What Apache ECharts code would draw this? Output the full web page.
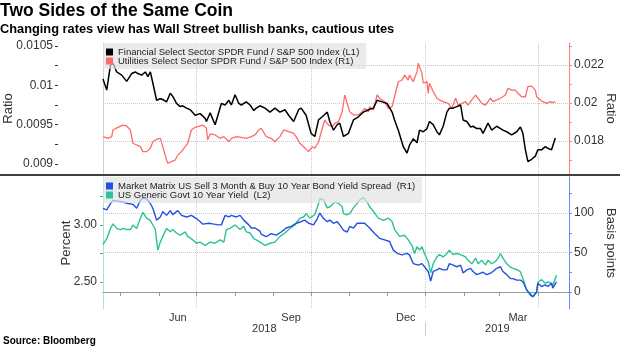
<!DOCTYPE html>
<html><head><meta charset="utf-8">
<script src="https://cdn.jsdelivr.net/npm/echarts/dist/echarts.min.js"></script>
<style>html,body{margin:0;padding:0;background:#fff}#c{width:620px;height:348px}</style>
</head><body><div id="c"></div><script>
// ---------- DATA ----------
const finName = 'Financial Select Sector SPDR Fund / S&P 500 Index (L1)';
const utilName = 'Utilities Select Sector SPDR Fund / S&P 500 Index (R1)';
const spreadName = 'Market Matrix US Sell 3 Month & Buy 10 Year Bond Yield Spread  (R1)';
const yieldName = 'US Generic Govt 10 Year Yield  (L2)';

const finDates = ['2018-04-17','2018-04-20','2018-04-23','2018-04-25','2018-04-28','2018-05-02','2018-05-06','2018-05-10','2018-05-13','2018-05-15','2018-05-18','2018-05-21','2018-05-23','2018-05-25','2018-05-27','2018-05-30','2018-06-02','2018-06-04','2018-06-07','2018-06-10','2018-06-12','2018-06-15','2018-06-18','2018-06-20','2018-06-23','2018-06-26','2018-06-30','2018-07-04','2018-07-08','2018-07-09','2018-07-12','2018-07-16','2018-07-19','2018-07-21','2018-07-24','2018-07-27','2018-07-29','2018-08-01','2018-08-04','2018-08-06','2018-08-10','2018-08-13','2018-08-16','2018-08-18','2018-08-21','2018-08-25','2018-08-29','2018-09-02','2018-09-06','2018-09-10','2018-09-13','2018-09-17','2018-09-21','2018-09-23','2018-09-27','2018-10-01','2018-10-04','2018-10-07','2018-10-10','2018-10-14','2018-10-16','2018-10-19','2018-10-22','2018-10-24','2018-10-27','2018-10-31','2018-11-04','2018-11-08','2018-11-12','2018-11-16','2018-11-20','2018-11-23','2018-11-27','2018-12-01','2018-12-05','2018-12-07','2018-12-10','2018-12-14','2018-12-17','2018-12-19','2018-12-22','2018-12-25','2018-12-27','2018-12-30','2019-01-02','2019-01-04','2019-01-07','2019-01-10','2019-01-12','2019-01-15','2019-01-18','2019-01-20','2019-01-23','2019-01-26','2019-01-29','2019-01-31','2019-02-03','2019-02-06','2019-02-08','2019-02-11','2019-02-14','2019-02-16','2019-02-20','2019-02-23','2019-02-27','2019-03-02','2019-03-04','2019-03-07','2019-03-11','2019-03-15','2019-03-18','2019-03-20','2019-03-22','2019-03-24','2019-03-27','2019-03-30','2019-04-01','2019-04-04','2019-04-07','2019-04-09','2019-04-12','2019-04-15'];
const finValues = [0.01008,0.00994,0.01026,0.01028,0.01017,0.01013,0.01005,0.01015,0.01017,0.01015,0.01013,0.01017,0.01011,0.01017,0.01003,0.00981,0.00983,0.00982,0.00979,0.00990,0.00986,0.00977,0.00973,0.00974,0.00971,0.00969,0.00962,0.00964,0.00958,0.00954,0.00965,0.00950,0.00966,0.00977,0.00975,0.00981,0.00975,0.00988,0.00977,0.00975,0.00979,0.00975,0.00968,0.00971,0.00974,0.00971,0.00966,0.00971,0.00966,0.00969,0.00962,0.00954,0.00969,0.00971,0.00962,0.00939,0.00935,0.00956,0.00960,0.00966,0.00954,0.00943,0.00950,0.00952,0.00935,0.00939,0.00956,0.00960,0.00966,0.00969,0.00971,0.00981,0.00979,0.00977,0.00966,0.00956,0.00943,0.00922,0.00914,0.00924,0.00932,0.00927,0.00943,0.00941,0.00945,0.00954,0.00950,0.00941,0.00937,0.00948,0.00966,0.00971,0.00971,0.00973,0.00975,0.00956,0.00954,0.00947,0.00948,0.00945,0.00945,0.00939,0.00952,0.00943,0.00948,0.00945,0.00943,0.00941,0.00937,0.00941,0.00947,0.00939,0.00918,0.00903,0.00906,0.00910,0.00918,0.00918,0.00922,0.00920,0.00918,0.00933];

const utilDates = ['2018-04-17','2018-04-21','2018-04-24','2018-04-25','2018-04-29','2018-05-03','2018-05-06','2018-05-09','2018-05-11','2018-05-14','2018-05-17','2018-05-19','2018-05-22','2018-05-25','2018-05-27','2018-05-30','2018-06-02','2018-06-04','2018-06-07','2018-06-08','2018-06-11','2018-06-14','2018-06-16','2018-06-19','2018-06-22','2018-06-24','2018-06-27','2018-06-30','2018-07-04','2018-07-06','2018-07-09','2018-07-10','2018-07-12','2018-07-16','2018-07-20','2018-07-23','2018-07-27','2018-07-29','2018-08-02','2018-08-06','2018-08-10','2018-08-14','2018-08-17','2018-08-20','2018-08-22','2018-08-26','2018-08-30','2018-09-02','2018-09-06','2018-09-09','2018-09-13','2018-09-17','2018-09-19','2018-09-22','2018-09-25','2018-09-29','2018-10-02','2018-10-04','2018-10-07','2018-10-10','2018-10-12','2018-10-15','2018-10-18','2018-10-20','2018-10-23','2018-10-26','2018-10-28','2018-10-30','2018-11-01','2018-11-04','2018-11-08','2018-11-11','2018-11-13','2018-11-16','2018-11-17','2018-11-20','2018-11-23','2018-11-25','2018-11-29','2018-12-02','2018-12-05','2018-12-07','2018-12-10','2018-12-13','2018-12-15','2018-12-18','2018-12-19','2018-12-22','2018-12-25','2018-12-26','2018-12-29','2018-12-30','2019-01-02','2019-01-03','2019-01-04','2019-01-07','2019-01-10','2019-01-12','2019-01-15','2019-01-16','2019-01-19','2019-01-22','2019-01-25','2019-01-27','2019-01-30','2019-02-02','2019-02-04','2019-02-07','2019-02-10','2019-02-12','2019-02-15','2019-02-18','2019-02-20','2019-02-22','2019-02-24','2019-02-27','2019-03-02','2019-03-06','2019-03-08','2019-03-11','2019-03-14','2019-03-16','2019-03-19','2019-03-22','2019-03-24','2019-03-27','2019-03-30','2019-03-31','2019-04-03','2019-04-05','2019-04-08','2019-04-11','2019-04-13','2019-04-15'];
const utilValues = [0.01823,0.01814,0.01823,0.01858,0.01872,0.01884,0.01879,0.01858,0.01788,0.01779,0.01770,0.01744,0.01744,0.01762,0.01796,0.01809,0.01814,0.01770,0.01700,0.01683,0.01691,0.01700,0.01726,0.01744,0.01770,0.01788,0.01858,0.01872,0.01879,0.01884,0.01867,0.01805,0.01837,0.01832,0.01814,0.01823,0.01796,0.01814,0.01823,0.01819,0.01814,0.01823,0.01832,0.01858,0.01867,0.01823,0.01814,0.01796,0.01823,0.01858,0.01849,0.01840,0.01823,0.01788,0.01770,0.01744,0.01770,0.01762,0.01796,0.01867,0.01910,0.01884,0.01875,0.01893,0.01902,0.01954,0.02042,0.01998,0.01954,0.01937,0.01937,0.01954,0.01972,0.01954,0.01981,0.01963,0.02042,0.02025,0.02007,0.01972,0.01981,0.02033,0.02112,0.02121,0.02147,0.02121,0.02147,0.02112,0.02165,0.02209,0.02156,0.02104,0.02112,0.02051,0.02104,0.02060,0.02025,0.02016,0.02007,0.02016,0.01998,0.01972,0.02025,0.01989,0.01998,0.02007,0.01989,0.02016,0.02042,0.02025,0.01998,0.01989,0.02007,0.02025,0.02007,0.02016,0.02025,0.02042,0.02077,0.02068,0.02068,0.02051,0.02033,0.02033,0.02086,0.02089,0.02068,0.02033,0.02016,0.02007,0.01998,0.02007,0.02002,0.02007];

const spreadDates = ['2018-04-17','2018-04-20','2018-04-23','2018-04-25','2018-04-29','2018-05-03','2018-05-07','2018-05-11','2018-05-14','2018-05-17','2018-05-19','2018-05-22','2018-05-25','2018-05-27','2018-05-30','2018-06-02','2018-06-04','2018-06-07','2018-06-10','2018-06-12','2018-06-16','2018-06-19','2018-06-23','2018-06-27','2018-07-01','2018-07-04','2018-07-06','2018-07-11','2018-07-15','2018-07-19','2018-07-21','2018-07-24','2018-07-27','2018-07-29','2018-08-02','2018-08-05','2018-08-08','2018-08-12','2018-08-14','2018-08-17','2018-08-21','2018-08-22','2018-08-26','2018-08-30','2018-09-03','2018-09-07','2018-09-11','2018-09-15','2018-09-19','2018-09-23','2018-09-26','2018-09-29','2018-10-03','2018-10-06','2018-10-08','2018-10-11','2018-10-14','2018-10-16','2018-10-19','2018-10-22','2018-10-24','2018-10-27','2018-10-30','2018-11-01','2018-11-04','2018-11-07','2018-11-11','2018-11-13','2018-11-17','2018-11-21','2018-11-25','2018-11-29','2018-12-03','2018-12-06','2018-12-09','2018-12-13','2018-12-17','2018-12-19','2018-12-22','2018-12-26','2018-12-29','2018-12-31','2019-01-03','2019-01-05','2019-01-07','2019-01-10','2019-01-12','2019-01-15','2019-01-18','2019-01-20','2019-01-23','2019-01-26','2019-01-29','2019-01-31','2019-02-03','2019-02-06','2019-02-08','2019-02-11','2019-02-14','2019-02-16','2019-02-19','2019-02-22','2019-02-24','2019-02-27','2019-03-02','2019-03-04','2019-03-07','2019-03-10','2019-03-12','2019-03-15','2019-03-18','2019-03-20','2019-03-23','2019-03-26','2019-03-28','2019-03-31','2019-04-01','2019-04-04','2019-04-07','2019-04-09','2019-04-12','2019-04-13','2019-04-16'];
const spreadValues = [106,104,112,116,115,114,112,111,106,116,119,118,112,106,91,95,102,97,103,98,103,97,95,97,93,89,86,87,86,85,85,97,95,97,95,97,91,85,81,81,77,73,70,74,72,76,81,83,87,89,91,87,85,93,100,93,89,91,87,89,85,78,76,83,81,87,87,87,81,74,68,66,64,53,49,47,49,47,36,34,36,32,26,14,26,28,30,28,28,36,34,32,34,24,28,30,26,22,24,25,22,24,26,30,32,26,22,17,17,15,15,13,3,-4,-6,0,11,7,9,7,11,5,13];

const yieldDates = ['2018-04-17','2018-04-20','2018-04-23','2018-04-25','2018-04-28','2018-05-01','2018-05-03','2018-05-06','2018-05-09','2018-05-11','2018-05-14','2018-05-17','2018-05-19','2018-05-22','2018-05-25','2018-05-27','2018-05-29','2018-05-31','2018-06-02','2018-06-04','2018-06-07','2018-06-10','2018-06-12','2018-06-15','2018-06-18','2018-06-22','2018-06-24','2018-06-28','2018-07-01','2018-07-04','2018-07-08','2018-07-12','2018-07-16','2018-07-20','2018-07-23','2018-07-25','2018-07-28','2018-08-01','2018-08-05','2018-08-08','2018-08-10','2018-08-13','2018-08-16','2018-08-18','2018-08-21','2018-08-25','2018-08-29','2018-09-02','2018-09-06','2018-09-10','2018-09-14','2018-09-18','2018-09-22','2018-09-25','2018-09-27','2018-09-30','2018-10-04','2018-10-07','2018-10-08','2018-10-11','2018-10-14','2018-10-16','2018-10-20','2018-10-23','2018-10-26','2018-10-27','2018-10-30','2018-11-01','2018-11-04','2018-11-07','2018-11-09','2018-11-12','2018-11-15','2018-11-17','2018-11-20','2018-11-24','2018-11-28','2018-12-02','2018-12-05','2018-12-07','2018-12-11','2018-12-15','2018-12-18','2018-12-21','2018-12-23','2018-12-25','2018-12-27','2018-12-29','2018-12-31','2019-01-03','2019-01-05','2019-01-07','2019-01-10','2019-01-12','2019-01-15','2019-01-18','2019-01-20','2019-01-23','2019-01-26','2019-01-29','2019-02-02','2019-02-04','2019-02-07','2019-02-10','2019-02-12','2019-02-15','2019-02-18','2019-02-20','2019-02-23','2019-02-26','2019-02-28','2019-03-02','2019-03-04','2019-03-07','2019-03-10','2019-03-12','2019-03-15','2019-03-18','2019-03-20','2019-03-23','2019-03-26','2019-03-28','2019-03-31','2019-04-01','2019-04-04','2019-04-07','2019-04-09','2019-04-12','2019-04-13','2019-04-16'];
const yieldValues = [2.83,2.88,2.97,3.01,2.97,2.96,2.97,2.96,2.96,3.00,2.97,3.06,3.11,3.06,3.04,3.00,2.96,2.78,2.85,2.90,2.97,2.94,2.96,2.93,2.91,2.94,2.90,2.87,2.84,2.85,2.82,2.85,2.84,2.87,2.85,2.96,2.97,3.00,2.96,2.99,2.94,2.93,2.88,2.87,2.85,2.82,2.84,2.85,2.90,2.93,2.97,3.00,3.06,3.07,3.10,3.06,3.09,3.19,3.23,3.22,3.15,3.16,3.20,3.19,3.16,3.10,3.09,3.10,3.15,3.19,3.22,3.24,3.20,3.16,3.12,3.06,3.04,3.06,3.03,2.96,2.90,2.91,2.87,2.82,2.75,2.81,2.78,2.81,2.75,2.68,2.58,2.66,2.72,2.74,2.72,2.75,2.78,2.74,2.75,2.74,2.72,2.69,2.66,2.71,2.66,2.69,2.65,2.69,2.66,2.68,2.71,2.75,2.71,2.66,2.63,2.62,2.61,2.59,2.53,2.43,2.40,2.37,2.41,2.50,2.52,2.49,2.50,2.49,2.47,2.56];

// axis ticks / labels
const xStart = '2018-04-17', xEnd = '2019-04-26';
const monthTickDates = ['2018-05-01','2018-06-01','2018-07-01','2018-08-01','2018-09-01','2018-10-01','2018-11-01','2018-12-01','2019-01-01','2019-02-01','2019-03-01','2019-04-01'];
const quarterDates = ['2018-07-01','2018-10-01','2019-01-01','2019-04-01'];
const monthLabels = ['Jun','Sep','Dec','Mar'];
const monthLabelDates = ['2018-06-16','2018-09-15','2018-12-16','2019-03-16'];
const yearLabels = ['2018','2019'];
const yearBoundary = '2019-01-01';

const l1Ticks = [0.009,0.00925,0.0095,0.00975,0.01,0.01025,0.0105];
const l1LabelVals = [0.009,0.0095,0.01,0.0105];
const l1Labels = ['0.009','0.0095','0.01','0.0105'];
const r1Ticks = [0.017,0.018,0.019,0.02,0.021,0.022,0.023];
const r1LabelVals = [0.018,0.02,0.022];
const r1Labels = ['0.018','0.02','0.022'];
const l2Ticks = [2.5,2.75,3.0,3.25];
const l2LabelVals = [2.5,3.0];
const l2Labels = ['2.50','3.00'];
const bpTicks = [0,25,50,75,100,125];
const bpLabelVals = [0,50,100];
const bpLabels = ['0','50','100'];

// ---------- BUILD ----------
function t(s){const p=s.split('-').map(Number);return Date.UTC(p[0],p[1]-1,p[2]);}
function pairs(d,v){return d.map((x,i)=>[t(x),v[i]]);}
function lookup(vals,labels){return v=>{let b=0;for(let i=0;i<vals.length;i++){if(Math.abs(vals[i]-v)<Math.abs(vals[b]-v))b=i;}return labels[b];};}
const xMin=t(xStart), xMax=t(xEnd), jan=t(yearBoundary);
const yearLabelVals=[(xMin+jan)/2,(jan+xMax)/2];

const F='Liberation Sans';
const lblStyle={fontFamily:F,fontSize:12,color:'#333'};
const nameStyle={fontFamily:F,fontSize:13,color:'#333'};
const gridLine={show:true,lineStyle:{type:'dotted',color:'#c8c8c8',width:1}};
const hidden={axisLine:{show:false},axisLabel:{show:false}};
const legendBase={orient:'vertical',left:103,itemWidth:7,itemHeight:7,itemGap:-1,padding:[4,7,3,3],backgroundColor:'rgba(226,226,226,0.68)',icon:'rect',textStyle:{fontFamily:F,fontSize:9.5,color:'#222'}};

const chart=echarts.init(document.getElementById('c'),null,{renderer:'canvas'});
chart.setOption({
  animation:false,
  backgroundColor:'#fff',
  title:[
    {text:'Two Sides of the Same Coin',left:0,top:2,padding:0,textStyle:{fontFamily:F,fontWeight:'bold',fontSize:17.5,color:'#000'}},
    {text:'Changing rates view has Wall Street bullish banks, cautious utes',left:0,top:23,padding:0,textStyle:{fontFamily:F,fontWeight:'bold',fontSize:12.8,color:'#000'}},
    {text:'Source: Bloomberg',left:3,top:336,padding:0,textStyle:{fontFamily:F,fontWeight:'bold',fontSize:10,color:'#000'}}
  ],
  graphic:[{type:'rect',left:0,top:174,shape:{width:620,height:2},style:{fill:'#404040'},z:10}],
  legend:[
    Object.assign({data:[finName,utilName],top:43},legendBase),
    Object.assign({data:[spreadName,yieldName],top:177},legendBase)
  ],
  grid:[
    {left:103,right:51,top:43,height:131,outerBoundsMode:'none',containLabel:false},
    {left:103,right:51,top:177,height:132,outerBoundsMode:'none',containLabel:false}
  ],
  xAxis:[
    {type:'value',gridIndex:0,position:'bottom',min:xMin,max:xMax,...hidden,axisTick:{show:false,customValues:quarterDates.map(t)},splitLine:gridLine},
    {type:'value',gridIndex:1,position:'bottom',min:xMin,max:xMax,axisLine:{show:true,lineStyle:{color:'#999'}},
      axisTick:{show:true,customValues:monthTickDates.map(t),length:4,lineStyle:{color:'#999'}},
      axisLabel:{customValues:monthLabelDates.map(t),formatter:lookup(monthLabelDates.map(t),monthLabels),margin:3,fontFamily:F,fontSize:11,color:'#333'},splitLine:{show:false}},
    {type:'value',gridIndex:1,position:'bottom',min:xMin,max:xMax,...hidden,axisTick:{show:false,customValues:quarterDates.map(t)},splitLine:gridLine},
    {type:'value',gridIndex:1,position:'bottom',min:xMin,max:xMax,offset:13,axisLine:{show:false},
      axisTick:{show:true,customValues:[jan],length:14,lineStyle:{color:'#ccc'}},
      axisLabel:{customValues:yearLabelVals,formatter:lookup(yearLabelVals,yearLabels),margin:1,fontFamily:F,fontSize:11,color:'#333'},splitLine:{show:false}}
  ],
  yAxis:[
    {type:'value',gridIndex:0,position:'left',offset:45,min:0.008873,max:0.010538,axisLine:{show:false},
      axisTick:{show:true,customValues:l1Ticks,length:3,lineStyle:{color:'#333'}},
      axisLabel:{customValues:l1LabelVals,formatter:lookup(l1LabelVals,l1Labels),margin:5,...lblStyle},splitLine:{show:false},
      name:'Ratio',nameLocation:'middle',nameGap:43,nameMoveOverlap:false,nameTextStyle:nameStyle},
    {type:'value',gridIndex:0,position:'left',offset:0,min:0.008873,max:0.010538,axisLine:{show:true,lineStyle:{color:'#d0d0d0'}},axisTick:{show:false},axisLabel:{show:false},splitLine:{show:false}},
    {type:'value',gridIndex:0,position:'right',min:0.016263,max:0.023158,axisLine:{show:true,lineStyle:{color:'#ff7f7f'}},
      axisTick:{show:true,customValues:r1Ticks,length:3,lineStyle:{color:'#ff7f7f'}},
      axisLabel:{customValues:r1LabelVals,formatter:lookup(r1LabelVals,r1Labels),margin:5,...lblStyle},splitLine:{show:false},
      name:'Ratio',nameLocation:'middle',nameGap:35,nameRotate:-90,nameMoveOverlap:false,nameTextStyle:nameStyle},
    {type:'value',gridIndex:0,position:'right',min:0.016263,max:0.023158,...hidden,axisTick:{show:false,customValues:r1LabelVals},splitLine:gridLine},
    {type:'value',gridIndex:1,position:'left',min:2.2632,max:3.421,axisLine:{show:true,lineStyle:{color:'#a6e6d3'}},
      axisTick:{show:true,customValues:l2Ticks,length:3,lineStyle:{color:'#2bbf8e'}},
      axisLabel:{customValues:l2LabelVals,formatter:lookup(l2LabelVals,l2Labels),margin:6,...lblStyle},splitLine:{show:false},
      name:'Percent',nameLocation:'middle',nameGap:30,nameMoveOverlap:false,nameTextStyle:nameStyle},
    {type:'value',gridIndex:1,position:'right',min:-21.5,max:145.6,axisLine:{show:true,lineStyle:{color:'#6d8cf0'}},
      axisTick:{show:true,customValues:bpTicks,length:3,lineStyle:{color:'#6d8cf0'}},
      axisLabel:{customValues:bpLabelVals,formatter:lookup(bpLabelVals,bpLabels),margin:5,...lblStyle},splitLine:{show:false},
      name:'Basis points',nameLocation:'middle',nameGap:35,nameRotate:-90,nameMoveOverlap:false,nameTextStyle:nameStyle},
    {type:'value',gridIndex:1,position:'right',min:-21.5,max:145.6,...hidden,axisTick:{show:false,customValues:bpLabelVals},splitLine:gridLine}
  ],
  series:[
    {name:utilName,type:'line',xAxisIndex:0,yAxisIndex:2,data:pairs(utilDates,utilValues),showSymbol:false,color:'#ff6b6b',lineStyle:{width:1.3,color:'#ff6b6b'},z:2},
    {name:finName,type:'line',xAxisIndex:0,yAxisIndex:0,data:pairs(finDates,finValues),showSymbol:false,color:'#000',lineStyle:{width:1.5,color:'#000'},z:3},
    {name:yieldName,type:'line',xAxisIndex:1,yAxisIndex:4,data:pairs(yieldDates,yieldValues),showSymbol:false,color:'#2bc296',lineStyle:{width:1.4,color:'#2bc296'},z:2},
    {name:spreadName,type:'line',xAxisIndex:1,yAxisIndex:5,data:pairs(spreadDates,spreadValues),showSymbol:false,color:'#2150e2',lineStyle:{width:1.4,color:'#2150e2'},z:3}
  ]
});
</script></body></html>
